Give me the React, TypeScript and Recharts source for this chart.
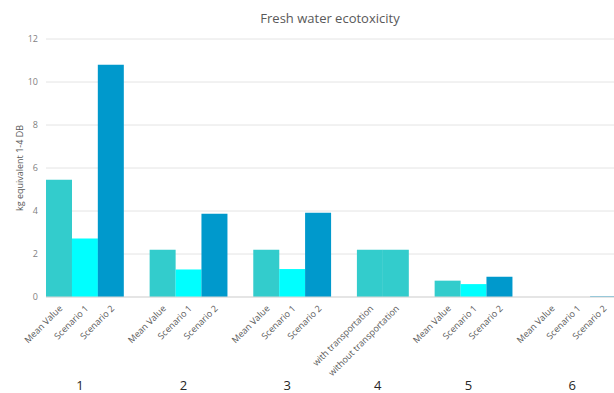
import React from 'react';
import { BarChart, Bar, XAxis, YAxis, CartesianGrid, Cell } from 'recharts';

// Group numbers shown under each cluster
const groupLabels = ['1', '2', '3', '4', '5', '6'];

// Category labels inside each group
const scenarioLabels = ['Mean Value', 'Scenario 1', 'Scenario 2'];
const transportLabels = ['with transportation', 'without transportation'];

// kg equivalent 1-4 DB per group
const group1Values = [5.45, 2.72, 10.8];
const group2Values = [2.2, 1.28, 3.87];
const group3Values = [2.2, 1.3, 3.92];
const group4Values = [2.2, 2.2];
const group5Values = [0.76, 0.6, 0.94];
const group6Values = [0, 0, 0.03];

const yTicks = [0, 2, 4, 6, 8, 10, 12];

const MEAN_COLOR = '#33CCCC';
const S1_COLOR = '#00FFFF';
const S2_COLOR = '#0099CC';

const scenarioColors = [MEAN_COLOR, S1_COLOR, S2_COLOR];
const transportColors = [MEAN_COLOR, MEAN_COLOR];

type Row = {
  key: string;
  label: string;
  value: number | null;
  color: string;
  group: string;
  groupSize: number;
  groupPos: number;
};

const groups: { labels: string[]; values: number[]; colors: string[] }[] = [
  { labels: scenarioLabels, values: group1Values, colors: scenarioColors },
  { labels: scenarioLabels, values: group2Values, colors: scenarioColors },
  { labels: scenarioLabels, values: group3Values, colors: scenarioColors },
  { labels: transportLabels, values: group4Values, colors: transportColors },
  { labels: scenarioLabels, values: group5Values, colors: scenarioColors },
  { labels: scenarioLabels, values: group6Values, colors: scenarioColors },
];

// Flatten groups into one category row list, with an empty spacer between groups
const data: Row[] = [];
groups.forEach((g, gi) => {
  if (gi > 0) {
    data.push({ key: `gap-${gi}`, label: '', value: null, color: 'none', group: '', groupSize: 0, groupPos: -1 });
  }
  g.labels.forEach((label, i) => {
    data.push({
      key: `${gi}-${i}`,
      label,
      value: g.values[i],
      color: g.colors[i],
      group: groupLabels[gi],
      groupSize: g.labels.length,
      groupPos: i,
    });
  });
});

const FONT = '"Open Sans", "Liberation Sans", sans-serif';

const CHART_W = 620;
const CHART_H = 393;
const MARGIN_RIGHT = 4;
const Y_AXIS_W = 46;
const PLOT_W = CHART_W - Y_AXIS_W - MARGIN_RIGHT;
const SLOT_W = PLOT_W / data.length;

const CategoryTick = (props: any) => {
  const { x, y, payload, index } = props;
  const row = data[index];
  if (!row) return null;
  const children: React.ReactNode[] = [];
  if (row.label) {
    const ax = x + 4;
    const ay = y + 4;
    children.push(
      <text
        key="lbl"
        x={ax}
        y={ay}
        textAnchor="end"
        fontSize={9}
        fill="#595959"
        fontFamily={FONT}
        transform={`rotate(-45, ${ax}, ${ay})`}
      >
        {payload.value}
      </text>
    );
  }
  // group number sits under the middle of its cluster
  if (row.groupPos === 0) {
    const mid = x + ((row.groupSize - 1) / 2) * SLOT_W - 5;
    children.push(
      <text key="grp" x={mid} y={y + 85} textAnchor="middle" fontSize={13} fill="#262626" fontFamily={FONT}>
        {row.group}
      </text>
    );
  }
  return <g>{children}</g>;
};

export default function App() {
  return (
    <div
      style={{
        position: 'absolute',
        left: 0,
        top: 0,
        width: 614,
        height: 393,
        overflow: 'hidden',
        background: '#ffffff',
      }}
    >
      <div
        style={{
          position: 'absolute',
          left: 0,
          width: 660,
          top: 9,
          textAlign: 'center',
          fontFamily: FONT,
          fontSize: 13,
          color: '#595959',
          lineHeight: '18px',
        }}
      >
        Fresh water ecotoxicity
      </div>
      <BarChart
        width={CHART_W}
        height={CHART_H}
        data={data}
        margin={{ top: 39, right: MARGIN_RIGHT, left: 0, bottom: 0 }}
        barCategoryGap={0}
        barGap={0}
      >
        <CartesianGrid horizontal vertical={false} stroke="#e4e4e4" />
        <XAxis
          dataKey="label"
          interval={0}
          height={96}
          tickLine={false}
          axisLine={{ stroke: '#d9d9d9' }}
          tick={<CategoryTick />}
          allowDuplicatedCategory
        />
        <YAxis
          width={Y_AXIS_W}
          domain={[0, 12]}
          ticks={yTicks}
          tickLine={false}
          axisLine={false}
          tick={{ fontSize: 9, fill: '#7f7f7f', fontFamily: FONT }}
          label={{
            value: 'kg equivalent 1-4 DB',
            angle: -90,
            position: 'insideLeft',
            offset: 20,
            style: { fontSize: 9, fill: '#595959', fontFamily: FONT, textAnchor: 'middle' },
          }}
        />
        <Bar dataKey="value" isAnimationActive={false}>
          {data.map((d) => (
            <Cell key={d.key} fill={d.color} />
          ))}
        </Bar>
      </BarChart>
    </div>
  );
}
